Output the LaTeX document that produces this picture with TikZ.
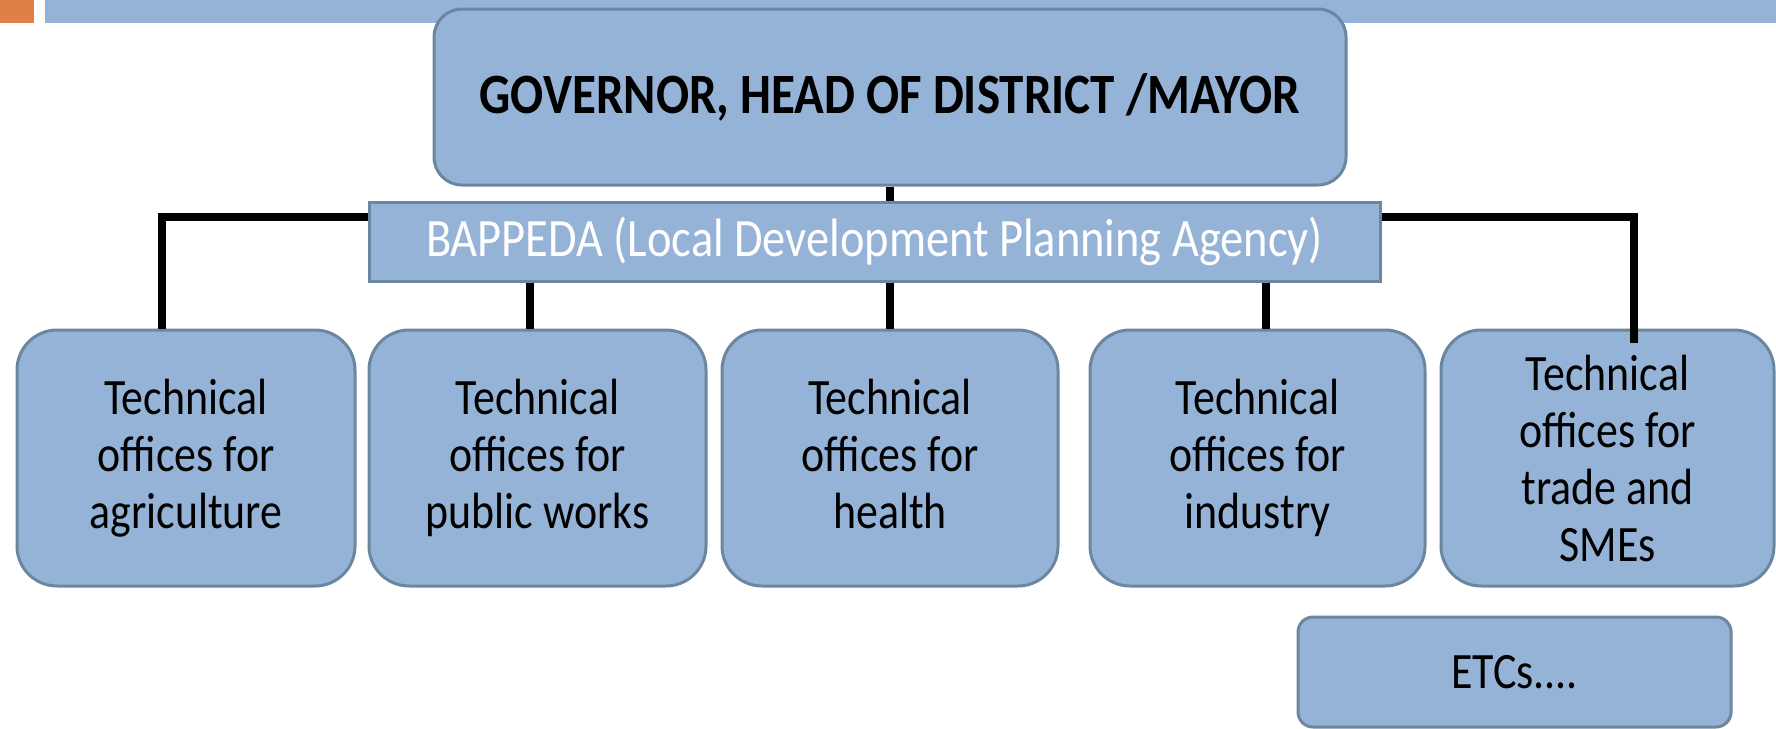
\documentclass[tikz,border=0pt]{standalone}
\usepackage{fontspec}
\setmainfont[FakeStretch=0.86]{Carlito}
\newlength{\du}
\setlength{\du}{1pt}
\definecolor{boxfill}{rgb}{0.584,0.702,0.843}
\definecolor{boxline}{rgb}{0.420,0.525,0.624}
\definecolor{tabcolor}{rgb}{0.871,0.502,0.278}
\tikzset{
  office/.style={draw=boxline, fill=boxfill, line width=3\du, rounded corners=40\du,
    minimum width=336\du, minimum height=256\du, inner sep=0pt, align=center,
    font=\fontsize{51}{57}\selectfont},
  link/.style={draw=black, line width=8\du}
}

\begin{document}
\begin{tikzpicture}
\pgftransformxscale{1.000000}
\pgftransformyscale{-1.000000}
\useasboundingbox (0\du,0\du) rectangle (1776\du,728\du);
% title bar
\fill[tabcolor] (0\du,0\du) rectangle (34\du,23\du);
\fill[boxfill] (45\du,0\du) rectangle (1776\du,23\du);
% head
\node[office, rounded corners=28\du, minimum width=912\du, minimum height=176\du,
  font=\fontsize{57}{60}\selectfont\bfseries] (gov) at (890\du,97\du) {GOVERNOR, HEAD OF DISTRICT /MAYOR};
\node[office, rounded corners=0pt, minimum width=1011\du, minimum height=79\du,
  font=\fontsize{54}{60}\selectfont, text=white] (bappeda) at (874.5\du,241.5\du) {BAPPEDA (Local Development Planning Agency)};
% technical offices
\node[office, minimum width=338\du] (agri) at (186\du,458\du) {Technical\\offices for\\agriculture};
\node[office, minimum width=337\du] (works) at (537.5\du,458\du) {Technical\\offices for\\public works};
\node[office] (health) at (890\du,458\du) {Technical\\offices for\\health\vphantom{g}};
\node[office, minimum width=335\du] (industry) at (1257.5\du,458\du) {Technical\\offices for\\industry};
\node[office, minimum width=333\du] (trade) at (1607.5\du,458\du) {Technical\\offices for\\trade and\\SMEs};
\node[office, rounded corners=15\du, minimum width=433\du, minimum height=110\du] (etc) at (1514.5\du,672\du) {ETCs....};
% links
\coordinate (ltee) at (162\du,217\du);
\coordinate (rtee) at (1634\du,217\du);
\coordinate (rend) at (1634\du,343\du);
\draw[link] (gov.south) -- (gov.south |- bappeda.north);
\draw[link] (bappeda.west |- ltee) -| (agri.north -| ltee);
\draw[link] (bappeda.east |- rtee) -| (rend);
\draw[link] ([xshift=-8\du]works.north |- bappeda.south) -- ([xshift=-8\du]works.north);
\draw[link] (health.north |- bappeda.south) -- (health.north);
\draw[link] ([xshift=8\du]industry.north |- bappeda.south) -- ([xshift=8\du]industry.north);
\end{tikzpicture}
\end{document}
